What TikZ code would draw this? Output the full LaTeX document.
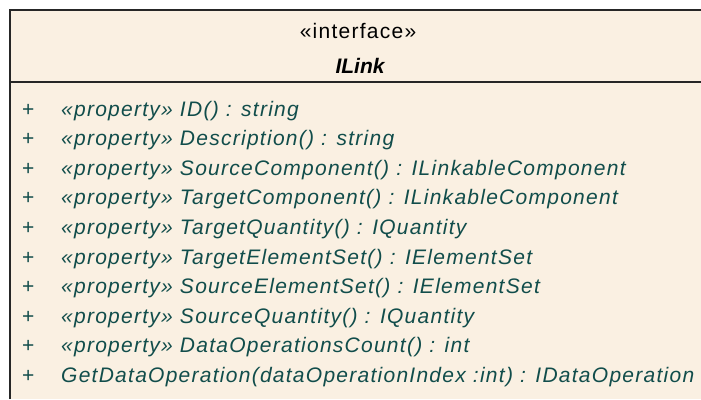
\documentclass[tikz,border=0pt]{standalone}
\usepackage{fontspec}
\setmainfont{Liberation Sans}
\usetikzlibrary{positioning}
\definecolor{classfill}{HTML}{FAF0E2}
\definecolor{membertext}{HTML}{114D4B}

\begin{document}
\begin{tikzpicture}[x=1pt,y=-1pt,
    classline/.style={draw=black!85,line width=2pt},
    headtext/.style={anchor=base,inner sep=0pt,font=\fontsize{21}{25}\selectfont\addfontfeature{LetterSpace=6}},
    visib/.style={anchor=base west,inner sep=0pt,text=membertext,font=\fontsize{21}{25}\selectfont},
    member/.style={anchor=base west,inner sep=0pt,text=membertext,font=\fontsize{21}{25}\selectfont\itshape\addfontfeature{LetterSpace=6}}]
    \useasboundingbox (0,0) rectangle (701,399);
    \fill[white] (0,0) rectangle (701,399);
    \fill[classfill] (10,10) rectangle (701,399);
    \draw[classline] (10,399) -- (10,10) -- (701,10);
    \draw[classline] (10,82) -- (701,82);

    \node[headtext] (stereo) at (358,38) {«interface»};
    \node[headtext,font=\fontsize{21}{25}\selectfont\bfseries\itshape] (name) at (360,73) {ILink};

    \foreach \txt [count=\i] in {%
        «property» ID() : string,
        «property» Description() : string,
        «property» SourceComponent() : ILinkableComponent,
        «property» TargetComponent() : ILinkableComponent,
        «property» TargetQuantity() : IQuantity,
        «property» TargetElementSet() : IElementSet,
        «property» SourceElementSet() : IElementSet,
        «property» SourceQuantity() : IQuantity,
        «property» DataOperationsCount() : int,
        GetDataOperation(dataOperationIndex :int) : IDataOperation} {
      \node[visib] (vis\i) at (22,{116+29.6*(\i-1)}) {+};
      \node[member] (op\i) at (61,{116+29.6*(\i-1)}) {\txt};
    }
\end{tikzpicture}
\end{document}
